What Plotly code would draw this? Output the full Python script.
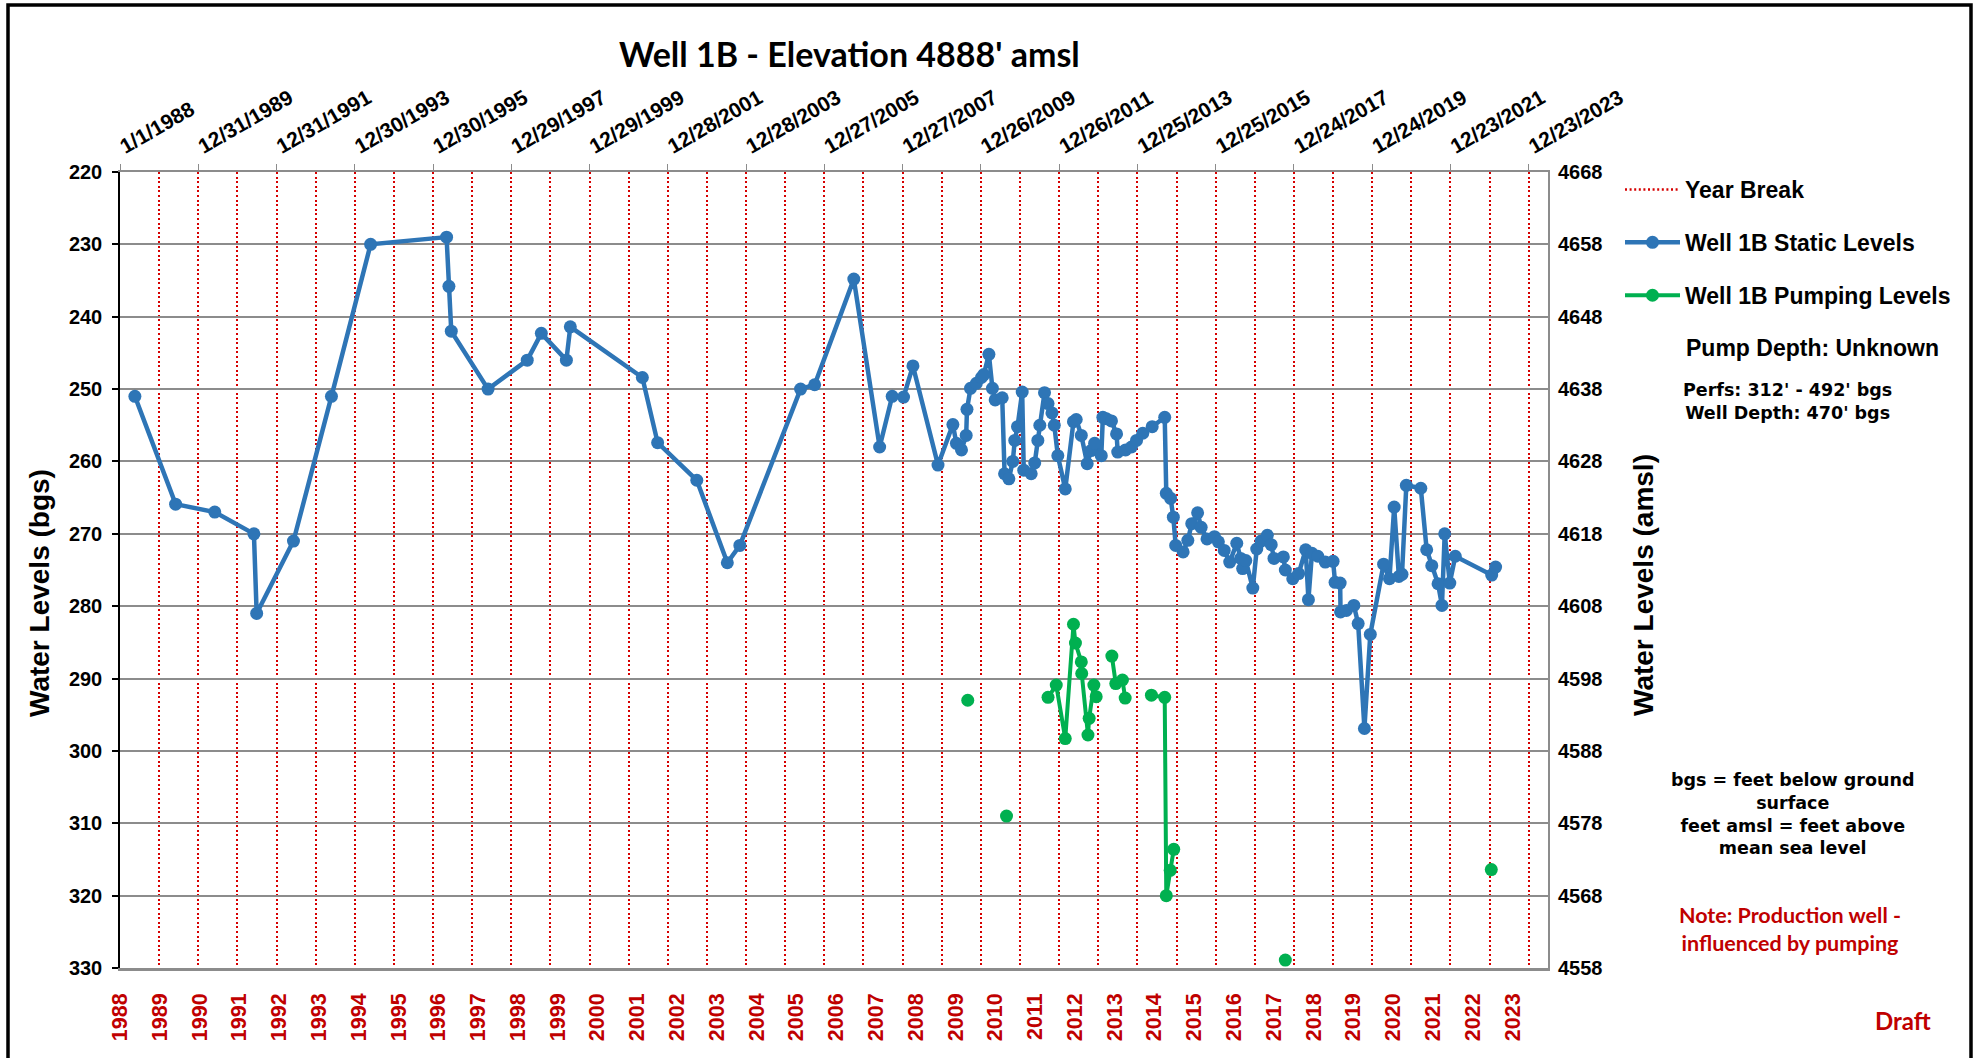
import plotly.graph_objects as go
from datetime import datetime, timedelta

# ---------------- data (decimal years, feet below ground surface) ----------------
static_year = [1988.38, 1989.42, 1990.42, 1991.42, 1991.49, 1992.43, 1993.40, 1994.40,
               1996.34, 1996.40, 1996.46, 1997.40, 1998.40, 1998.76, 1999.40, 1999.50,
               2001.34, 2001.73, 2002.73, 2003.51, 2003.83, 2005.38, 2005.74, 2006.74,
               2007.40, 2007.72, 2008.01, 2008.25, 2008.89, 2009.27, 2009.36, 2009.49,
               2009.61, 2009.63, 2009.72, 2009.87, 2010.00, 2010.06, 2010.19, 2010.28,
               2010.35, 2010.53, 2010.59, 2010.70, 2010.80, 2010.85, 2010.92, 2011.04,
               2011.08, 2011.27, 2011.36, 2011.44, 2011.49, 2011.61, 2011.70, 2011.80,
               2011.86, 2011.95, 2012.14, 2012.35, 2012.42, 2012.55, 2012.70, 2012.80,
               2012.89, 2013.06, 2013.10, 2013.19, 2013.32, 2013.45, 2013.48, 2013.68,
               2013.83, 2013.96, 2014.12, 2014.36, 2014.68, 2014.72, 2014.83, 2014.90,
               2014.96, 2015.15, 2015.27, 2015.37, 2015.52, 2015.61, 2015.76, 2015.95,
               2016.05, 2016.20, 2016.34, 2016.52, 2016.62, 2016.67, 2016.75, 2016.93,
               2017.03, 2017.14, 2017.30, 2017.40, 2017.47, 2017.71, 2017.76, 2017.95,
               2018.10, 2018.28, 2018.35, 2018.44, 2018.59, 2018.78, 2018.98, 2019.03,
               2019.16, 2019.17, 2019.32, 2019.51, 2019.62, 2019.78, 2019.93, 2020.27,
               2020.42, 2020.54, 2020.66, 2020.74, 2020.85, 2021.22, 2021.37, 2021.50,
               2021.66, 2021.76, 2021.83, 2021.96, 2022.10, 2023.03, 2023.13]
static_bgs = [251.0, 265.9, 267.0, 270.0, 281.0, 271.0, 251.0, 230.0,
              229.0, 235.8, 242.0, 250.0, 246.0, 242.3, 246.0, 241.4,
              248.4, 257.4, 262.6, 274.0, 271.6, 250.0, 249.4, 234.8,
              258.0, 251.0, 251.1, 246.8, 260.5, 254.9, 257.5, 258.4,
              256.4, 252.8, 249.9, 249.2, 248.4, 248.0, 245.2, 249.9,
              251.5, 251.2, 261.7, 262.4, 260.0, 257.1, 255.2, 250.4,
              261.2, 261.7, 260.2, 257.1, 255.0, 250.5, 252.0, 253.3,
              255.0, 259.2, 263.8, 254.5, 254.2, 256.4, 260.3, 258.5,
              257.5, 259.2, 253.9, 254.1, 254.4, 256.2, 258.7, 258.4,
              258.0, 257.1, 256.1, 255.2, 253.9, 264.4, 265.1, 267.7,
              271.6, 272.5, 270.9, 268.6, 267.1, 269.1, 270.7, 270.4,
              271.1, 272.3, 273.9, 271.3, 273.4, 274.8, 273.7, 277.5,
              272.1, 271.0, 270.2, 271.5, 273.4, 273.2, 275.0, 276.2,
              275.5, 272.2, 279.1, 272.7, 273.1, 273.9, 273.8, 276.7,
              276.8, 280.8, 280.6, 279.9, 282.4, 296.9, 283.9, 274.2,
              276.2, 266.3, 275.9, 275.6, 263.3, 263.7, 272.2, 274.4,
              276.9, 279.9, 270.0, 276.8, 273.1, 275.7, 274.6]

pump_year = [2009.65, None, 2010.64, None,
             2011.70, 2011.91, 2012.14, 2012.35, 2012.40, 2012.55, 2012.56, 2012.72,
             2012.75, 2012.87, 2012.93, None,
             2013.33, 2013.43, 2013.60, 2013.67, None,
             2014.34, 2014.68, 2014.72, 2014.82, 2014.91, None,
             2017.76, None, 2023.02]
pump_bgs = [293.0, None, 309.0, None,
            292.6, 290.9, 298.3, 282.5, 285.1, 287.7, 289.3, 297.8,
            295.5, 290.9, 292.5, None,
            286.9, 290.7, 290.2, 292.7, None,
            292.3, 292.6, 320.0, 316.5, 313.6, None,
            328.9, None, 316.4]

bottom_year_labels = [str(y) for y in range(1988, 2024)]
ELEVATION = 4888
bgs_range = [330, 220]
amsl_range = [ELEVATION - 330, ELEVATION - 220]


def to_date(y):
    if y is None:
        return None
    return datetime(1988, 1, 1) + timedelta(days=(y - 1988) * 365.25)


static_dates = [to_date(v) for v in static_year]
pump_dates = [to_date(v) for v in pump_year]

# ---------------- geometry (body margin removed -> page px == figure px) ----------------
W, H = 1984, 1058
L, T = 120, 172
PW, PH = 1428, 796
R = W - L - PW
B = H - T - PH


def px(x):  # page pixel -> paper
    return (x - L) / PW


def py(y):
    return (T + PH - y) / PH


BLUE = "#2E75B6"
GREEN = "#00B050"
GRIDRED = "#D60000"
TXTRED = "#C00000"
GRAY = "#8C8C8C"
DAY_MS = 86400000
ARIAL = "Liberation Sans, Arial, sans-serif"
NARROW = "Liberation Sans Narrow, Arial Narrow, Liberation Sans, sans-serif"
WIDE = "DejaVu Sans, Verdana, sans-serif"
CAL = "Lato, Carlito, Calibri, sans-serif"

fig = go.Figure()

fig.add_trace(go.Scatter(x=[None], y=[None], mode="lines", name="Year Break",
                         legendgroup="a",
                         line=dict(color=GRIDRED, width=2.4, dash="2px,2.6px")))
fig.add_trace(go.Scatter(x=static_dates, y=static_bgs, mode="lines+markers",
                         name="Well 1B Static Levels", legendgroup="b",
                         line=dict(color=BLUE, width=4.5),
                         marker=dict(color=BLUE, size=13)))
fig.add_trace(go.Scatter(x=pump_dates, y=pump_bgs, mode="lines+markers",
                         name="Well 1B Pumping Levels", legendgroup="c",
                         connectgaps=False,
                         line=dict(color=GREEN, width=4),
                         marker=dict(color=GREEN, size=13)))
# empty helper trace so the bottom year axis and the right elevation axis exist
fig.add_trace(go.Scatter(x=[None], y=[None], xaxis="x2", yaxis="y2",
                         showlegend=False, hoverinfo="skip"))

fig.update_layout(
    width=W, height=H,
    margin=dict(l=L, r=R, t=T, b=B),
    paper_bgcolor="white", plot_bgcolor="white",
    showlegend=True,
    xaxis=dict(
        type="date", side="top", anchor="y",
        range=["1988-01-01", "2024-06-20"],
        tickmode="linear", tick0="1988-01-01", dtick=730 * DAY_MS,
        tickformat="%-m/%-d/%Y", tickangle=-30,
        tickfont=dict(family=NARROW, size=21, color="black", weight="bold"),
        ticks="outside", ticklen=6, tickcolor=GRAY, tickwidth=1,
        showline=True, linecolor=GRAY, linewidth=2,
        showgrid=True, gridcolor=GRIDRED, gridwidth=2.4, griddash="2px,2.6px",
        minor=dict(tick0="1988-01-01", dtick=365 * DAY_MS, showgrid=True,
                   gridcolor=GRIDRED, gridwidth=2.4, griddash="2px,2.6px", ticks=""),
        zeroline=False,
    ),
    xaxis2=dict(
        overlaying="x", side="bottom", anchor="y",
        range=[0, 35.89],
        tickmode="array", tickvals=list(range(len(bottom_year_labels))),
        ticktext=bottom_year_labels, tickangle=-90,
        tickfont=dict(family=NARROW, size=21.5, color=TXTRED, weight="bold"),
        ticks="", ticklabelstandoff=14,
        showline=True, linecolor=GRAY, linewidth=2.5,
        showgrid=False, zeroline=False,
    ),
    yaxis=dict(
        range=bgs_range, tickmode="linear", tick0=220, dtick=10,
        tickfont=dict(family=ARIAL, size=20, color="black", weight="bold"),
        ticks="outside", ticklen=6, tickcolor="black", tickwidth=1.5,
        ticklabelstandoff=6,
        showline=True, linecolor="black", linewidth=1.5,
        showgrid=True, gridcolor=GRAY, gridwidth=2, zeroline=False,
    ),
    yaxis2=dict(
        overlaying="y", side="right", anchor="x",
        range=amsl_range, tickmode="linear", tick0=amsl_range[0], dtick=10,
        tickfont=dict(family=ARIAL, size=20, color="black", weight="bold"),
        ticks="", ticklabelstandoff=4,
        showline=True, linecolor=GRAY, linewidth=2,
        showgrid=False, zeroline=False,
    ),
    legend=dict(
        x=px(1620), y=py(168), xanchor="left", yanchor="top",
        font=dict(family=ARIAL, size=23, color="black", weight="bold"),
        itemwidth=55, traceorder="grouped", tracegroupgap=20,
        bgcolor="rgba(0,0,0,0)",
    ),
)

ann = []
ann.append(dict(text="Well 1B - Elevation 4888' amsl", x=px(849), y=py(53),
                font=dict(family=CAL, size=34, color="black", weight="bold")))
ann.append(dict(text="Water Levels (bgs)", x=px(39), y=py(593), textangle=-90,
                font=dict(family=ARIAL, size=28, color="black", weight="bold")))
ann.append(dict(text="Water Levels (amsl)", x=px(1643), y=py(585), textangle=-90,
                font=dict(family=ARIAL, size=28, color="black", weight="bold")))
ann.append(dict(text="Pump Depth: Unknown", x=px(1812), y=py(348),
                font=dict(family=ARIAL, size=23, color="black", weight="bold")))
ann.append(dict(text="Perfs: 312' - 492' bgs<br>Well Depth: 470' bgs", x=px(1787), y=py(401.5),
                font=dict(family=WIDE, size=17.5, color="black", weight="bold")))
ann.append(dict(text="bgs = feet below ground<br>surface<br>feet amsl = feet above<br>mean sea level",
                x=px(1792), y=py(814),
                font=dict(family=WIDE, size=17.5, color="black", weight="bold")))
ann.append(dict(text="Note: Production well -<br>influenced by pumping", x=px(1789.5), y=py(929),
                font=dict(family=CAL, size=21.5, color=TXTRED, weight="bold")))
ann.append(dict(text="Draft", x=px(1903), y=py(1021),
                font=dict(family=CAL, size=24, color=TXTRED, weight="bold")))
for a in ann:
    a.update(xref="paper", yref="paper", showarrow=False, xanchor="center", yanchor="middle")
fig.update_layout(annotations=ann)

fig.add_shape(type="rect", xref="paper", yref="paper",
              x0=px(8), x1=px(1971), y0=py(5), y1=py(1090),
              line=dict(color="black", width=3.5), fillcolor="rgba(0,0,0,0)", layer="above")

fig.write_html("out.html",
               config={"displayModeBar": False, "displaylogo": False},
               post_script="document.body.style.margin='0px';document.body.style.padding='0px';")
